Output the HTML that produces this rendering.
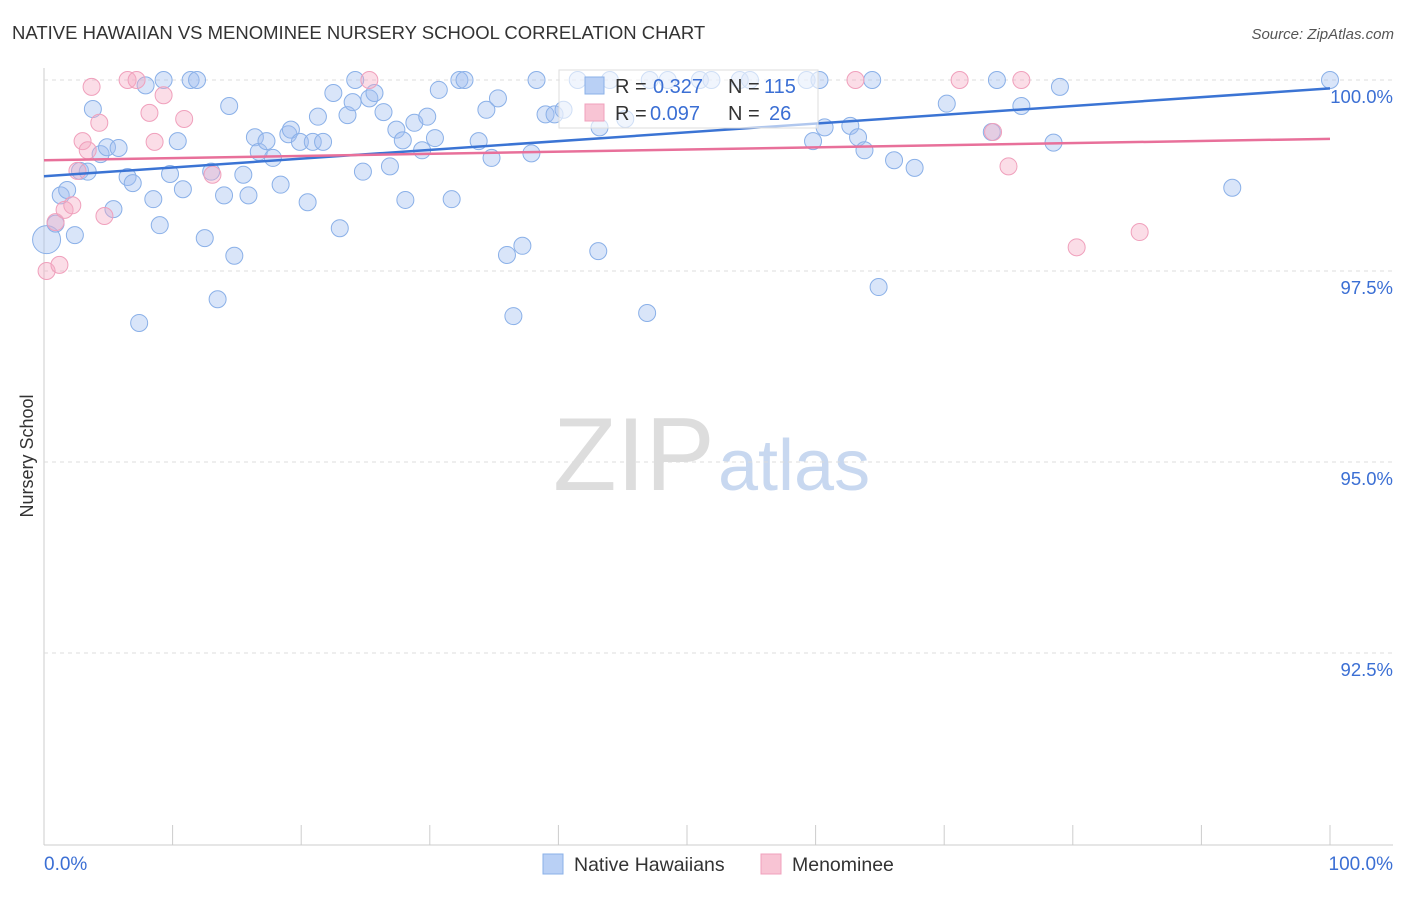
<!DOCTYPE html>
<html><head><meta charset="utf-8"><style>
body{margin:0;background:#fff;font-family:"Liberation Sans",sans-serif;}
svg text{font-family:"Liberation Sans",sans-serif;}
</style></head><body>
<svg id="c" width="1406" height="892">
<text x="12" y="39" font-size="18.5" fill="#333">NATIVE HAWAIIAN VS MENOMINEE NURSERY SCHOOL CORRELATION CHART</text>
<text x="1394" y="39" font-size="15" fill="#555" font-style="italic" text-anchor="end">Source: ZipAtlas.com</text>
<text transform="translate(33,456) rotate(-90)" font-size="18" fill="#333" text-anchor="middle">Nursery School</text>
<g><text x="553" y="490" font-size="104" fill="#ddd" font-family="Liberation Serif">ZIP</text><text x="718" y="490" font-size="72" fill="#c8d8f0">atlas</text></g>
<g id="grid"></g><g id="pts"></g><g id="lines"></g>
<g>
<rect x="559" y="70" width="259" height="58" fill="#fff" fill-opacity="0.6" stroke="#ddd"/>
<rect x="585" y="77" width="19" height="17" fill="#b9d0f5" stroke="#8ab0e8"/>
<rect x="585" y="104" width="19" height="17" fill="#f8c4d4" stroke="#f0a0bc"/>
<text x="615" y="93" font-size="20" fill="#333">R = </text><text x="653" y="93" font-size="20" fill="#3b6fd4">0.327</text>
<text x="728" y="93" font-size="20" fill="#333">N = </text><text x="764" y="93" font-size="20" fill="#3b6fd4">115</text>
<text x="615" y="120" font-size="20" fill="#333">R = </text><text x="650" y="120" font-size="20" fill="#3b6fd4">0.097</text>
<text x="728" y="120" font-size="20" fill="#333">N = </text><text x="769" y="120" font-size="20" fill="#3b6fd4">26</text>
</g>
<g>
<rect x="543" y="854" width="20" height="20" fill="#b9d0f5" stroke="#8ab0e8"/>
<text x="574" y="871" font-size="19.5" fill="#333">Native Hawaiians</text>
<rect x="761" y="854" width="20" height="20" fill="#f8c4d4" stroke="#f0a0bc"/>
<text x="792" y="871" font-size="19.5" fill="#333">Menominee</text>
</g>
</svg>
<script>
const blueX=[0.2,0.9,1.3,1.8,2.4,2.8,3.4,3.8,4.4,4.9,5.4,5.8,6.5,6.9,7.4,7.9,8.5,9.0,9.3,9.8,10.4,10.8,11.4,11.9,12.5,13.0,13.5,14.0,14.4,14.8,15.5,15.9,16.4,16.7,17.3,17.8,18.4,19.0,19.2,19.9,20.5,20.9,21.3,21.7,22.5,23.0,23.6,24.0,24.2,24.8,25.3,25.7,26.4,26.9,27.4,27.9,28.1,28.8,29.4,29.8,30.4,30.7,31.7,32.3,32.7,33.8,34.4,34.8,35.3,36.0,36.5,37.2,37.9,38.3,39.0,39.7,40.4,41.5,43.1,43.2,44.0,45.2,46.9,47.1,48.5,51.0,51.9,54.1,54.9,59.3,60.3,59.8,60.7,62.7,63.3,63.8,64.4,64.9,66.1,67.7,70.2,73.7,74.1,76.0,78.5,79.0,92.4,100];
const blueY=[97.91,98.12,98.49,98.56,97.97,98.81,98.80,99.62,99.03,99.12,98.31,99.11,98.73,98.65,96.82,99.93,98.44,98.10,100,98.77,99.20,98.57,100,100,97.93,98.80,97.13,98.49,99.66,97.70,98.76,98.49,99.25,99.06,99.20,98.98,98.63,99.29,99.35,99.19,98.40,99.19,99.52,99.19,99.83,98.06,99.54,99.71,100,98.80,99.76,99.83,99.58,98.87,99.35,99.21,98.43,99.44,99.08,99.52,99.24,99.87,98.44,100,100,99.20,99.61,98.98,99.76,97.71,96.91,97.83,99.04,100,99.55,99.55,99.61,100,97.76,99.38,100,99.49,96.95,100,100,100,100,100,100,100,100,99.20,99.38,99.40,99.25,99.08,100,97.29,98.95,98.85,99.69,99.32,100,99.66,99.18,99.91,98.59,100];
const pinkX=[0.2,0.9,1.2,1.6,2.2,2.6,3.0,3.4,3.7,4.3,4.7,6.5,7.2,8.2,8.6,9.3,10.9,13.1,25.3,63.1,71.2,73.8,75.0,76.0,80.3,85.2];
const pinkY=[97.50,98.14,97.58,98.30,98.36,98.81,99.20,99.08,99.91,99.44,98.22,100,100,99.57,99.19,99.80,99.49,98.76,100,100,100,99.32,98.87,100,97.81,98.01];
const blueTrend=[98.74,99.89];
const pinkTrend=[98.95,99.23];
const yTicks=[100,97.5,95,92.5];
const yTickLabels=["100.0%","97.5%","95.0%","92.5%"];
const xTicks=[0,10,20,30,40,50,60,70,80,90,100];
const X=v=>44+v*12.86, Y=v=>80+(100-v)*76.4;
const NS="http://www.w3.org/2000/svg";
function mk(t,a,p){const e=document.createElementNS(NS,t);for(const k in a)e.setAttribute(k,a[k]);p.appendChild(e);return e;}
const g=document.getElementById('grid');
let ax=mk('line',{x1:44,y1:68,x2:44,y2:845,stroke:'#ccc'},g);

let bx=mk('line',{x1:44,y1:845,x2:1393,y2:845,stroke:'#ccc'},g);

yTicks.forEach((v,i)=>{
 const l=mk('line',{x1:44,y1:Y(v),x2:1393,y2:Y(v),stroke:'#ddd','stroke-dasharray':'4,4'},g);
 
 const t=mk('text',{x:1393,y:Y(v)+23,'font-size':18.5,fill:'#3b6fd4','text-anchor':'end'},g);
 t.textContent=yTickLabels[i];
 
});
xTicks.forEach(v=>{
 const l=mk('line',{x1:X(v),y1:825,x2:X(v),y2:845,stroke:'#ccc'},g);
 
});
let t0=mk('text',{x:44,y:870,'font-size':19,fill:'#3b6fd4'},g);t0.textContent='0.0%';

let t1=mk('text',{x:1393,y:870,'font-size':19,fill:'#3b6fd4','text-anchor':'end'},g);t1.textContent='100.0%';

const p=document.getElementById('pts');
blueX.forEach((x,i)=>{
 const c=mk('circle',{cx:X(x),cy:Y(blueY[i]),r:i==0?14:8.5,fill:'rgba(160,190,240,0.4)',stroke:'#8ab0e8','stroke-width':1},p);
 
});
pinkX.forEach((x,i)=>{
 const c=mk('circle',{cx:X(x),cy:Y(pinkY[i]),r:8.5,fill:'rgba(245,170,195,0.4)',stroke:'#f0a0bc','stroke-width':1},p);
 
});
const L=document.getElementById('lines');
let bl=mk('line',{x1:X(0),y1:Y(blueTrend[0]),x2:X(100),y2:Y(blueTrend[1]),stroke:'#3b74d4','stroke-width':2.5},L);

let pl=mk('line',{x1:X(0),y1:Y(pinkTrend[0]),x2:X(100),y2:Y(pinkTrend[1]),stroke:'#e8709a','stroke-width':2.5},L);

</script>
</body></html>
